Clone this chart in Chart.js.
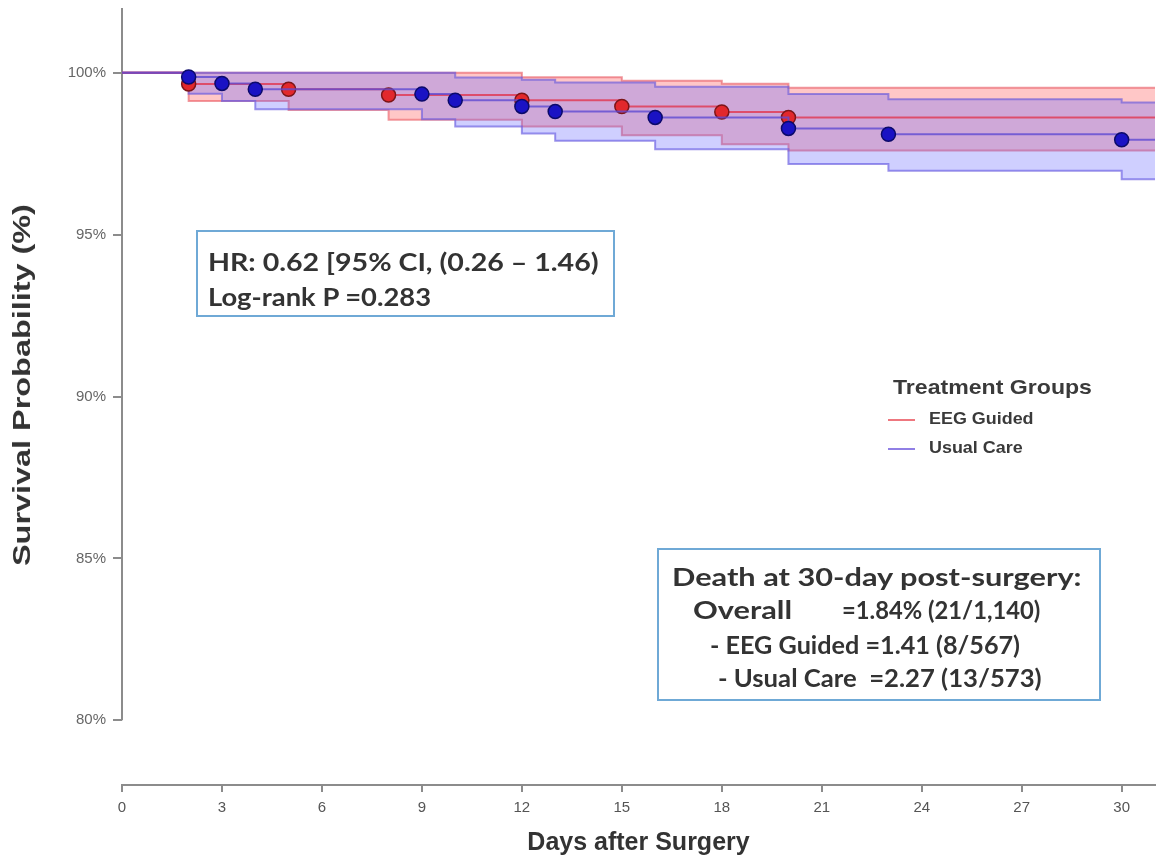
<!DOCTYPE html>
<html>
<head>
<meta charset="utf-8">
<title>Survival by treatment group</title>
<script src="https://cdn.jsdelivr.net/npm/chart.js@4.4.0/dist/chart.umd.min.js"></script>
<style>
    body { margin: 0; background: #fff; }
    #wrap { position: relative; width: 1158px; height: 859px; }
    #chart { position: absolute; left: 0; top: 0; }
    .box { position: absolute; border: 2px solid #6fa9d6; box-sizing: border-box; }
    .txt { position: absolute; font-family: Lato, 'Open Sans', sans-serif; font-weight: 700;
           color: #333; white-space: pre; font-size: 24px; line-height: 30px; transform-origin: 0 50%; }
    .leg { position: absolute; font-family: 'Liberation Sans', Arial, sans-serif; font-weight: 700;
           color: #3a3a3a; white-space: pre; transform-origin: 0 50%; }
    .swatch { position: absolute; width: 27px; height: 2px; }
    #ytitle { position: absolute; left: 22px; top: 385px; font-family: 'Liberation Sans', Arial, sans-serif;
              font-weight: 700; font-size: 24px; color: #333; white-space: pre; line-height: 28px;
              transform: translate(-50%, -50%) rotate(-90deg) scaleX(1.35); }
</style>
</head>
<body>
<div id="wrap">
    <canvas id="chart" width="1158" height="859"></canvas>
    <div id="ytitle">Survival Probability (%)</div>

    <!-- hazard ratio box -->
    <div class="box" style="left:196px; top:230px; width:419px; height:87px;"></div>
    <div class="txt" style="left:208px; top:247px; transform:scaleX(1.19);">HR: 0.62 [95% CI, (0.26 – 1.46)</div>
    <div class="txt" style="left:208px; top:282px; transform:scaleX(1.14);">Log-rank P =0.283</div>

    <!-- legend -->
    <div class="leg" style="left:893px; top:375px; font-size:21px; transform:scaleX(1.1);">Treatment Groups</div>
    <div class="swatch" style="left:888px; top:419px; background:rgba(235,95,105,0.85);"></div>
    <div class="leg" style="left:929px; top:410px; font-size:16px; transform:scaleX(1.12);">EEG Guided</div>
    <div class="swatch" style="left:888px; top:448px; background:rgba(125,105,225,0.85);"></div>
    <div class="leg" style="left:929px; top:439px; font-size:16px; transform:scaleX(1.12);">Usual Care</div>

    <!-- mortality box -->
    <div class="box" style="left:657px; top:548px; width:444px; height:153px;"></div>
    <div class="txt" style="left:672px; top:562px; transform:scaleX(1.28);">Death at 30-day post-surgery:</div>
    <div class="txt" style="left:693px; top:595px; transform:scaleX(1.28);">Overall</div>
    <div class="txt" style="left:842px; top:595px; transform:scaleX(0.99);">=1.84% (21/1,140)</div>
    <div class="txt" style="left:710px; top:630px; transform:scaleX(1.05);">- EEG Guided =1.41 (8/567)</div>
    <div class="txt" style="left:718px; top:663px; transform:scaleX(1.07);">- Usual Care  =2.27 (13/573)</div>
</div>

<script>
// EEG Guided: event days, survival and 95% CI (percent)
const eegDays  = [0, 2, 5, 8, 12, 15, 18, 20, 31];
const eegSurv  = [100, 99.65, 99.49, 99.31, 99.15, 98.96, 98.79, 98.62, 98.62];
const eegUpper = [100, 100, 100, 100, 99.86, 99.75, 99.66, 99.54, 99.54];
const eegLower = [100, 99.13, 98.85, 98.55, 98.34, 98.07, 97.79, 97.60, 97.60];

// Usual Care
const ucDays  = [0, 2, 3, 4, 9, 10, 12, 13, 16, 20, 23, 30, 31];
const ucSurv  = [100, 99.87, 99.67, 99.49, 99.34, 99.15, 98.96, 98.80, 98.62, 98.28, 98.10, 97.93, 97.93];
const ucUpper = [100, 100, 100, 100, 100, 99.85, 99.78, 99.70, 99.57, 99.34, 99.18, 99.08, 99.08];
const ucLower = [100, 99.35, 99.13, 98.87, 98.56, 98.34, 98.12, 97.90, 97.64, 97.18, 96.97, 96.71, 96.71];

// axis ticks
const xTicks = [0, 3, 6, 9, 12, 15, 18, 21, 24, 27, 30];
const yTicks = [80, 85, 90, 95, 100];

const axisGrey = '#8c8c8c';
const tickFont = "'Liberation Sans', Arial, sans-serif";

function pts(days, vals) {
    return days.map((d, i) => ({x: d, y: vals[i]}));
}

// markers only on the event steps, not on the start/end anchors
function markerRadius(days) {
    return ctx => (ctx.dataIndex === 0 || ctx.dataIndex === days.length - 1) ? 0 : 7;
}

function bandEdge(data, color, fill) {
    return {
        data: data,
        stepped: 'before',
        borderColor: color,
        borderWidth: 2,
        backgroundColor: fill || 'transparent',
        fill: fill ? '+1' : false,
        pointRadius: 0
    };
}

// y axis line from 80% up to the top (base R style axis)
const yAxisLine = {
    id: 'yAxisLine',
    beforeDatasetsDraw(chart) {
        const y = chart.scales.y;
        const ctx = chart.ctx;
        ctx.save();
        ctx.strokeStyle = axisGrey;
        ctx.lineWidth = 2;
        ctx.beginPath();
        ctx.moveTo(chart.chartArea.left, y.getPixelForValue(80));
        ctx.lineTo(chart.chartArea.left, chart.chartArea.top);
        ctx.stroke();
        ctx.restore();
    }
};

new Chart(document.getElementById('chart').getContext('2d'), {
    type: 'line',
    data: {
        datasets: [
            {
                // Usual Care survival (drawn on top)
                data: pts(ucDays, ucSurv),
                stepped: 'before',
                borderColor: 'rgba(95,75,210,0.8)',
                borderWidth: 2,
                fill: false,
                pointRadius: markerRadius(ucDays),
                pointBackgroundColor: '#1a12c4',
                pointBorderColor: '#0c0a6a',
                pointBorderWidth: 1.5
            },
            {
                // EEG Guided survival
                data: pts(eegDays, eegSurv),
                stepped: 'before',
                borderColor: 'rgba(225,55,80,0.8)',
                borderWidth: 2,
                fill: false,
                pointRadius: markerRadius(eegDays),
                pointBackgroundColor: '#e2282c',
                pointBorderColor: '#7c1518',
                pointBorderWidth: 1.5
            },
            bandEdge(pts(ucDays, ucUpper), 'rgba(105,90,220,0.65)', 'rgba(95,95,255,0.3)'),
            bandEdge(pts(ucDays, ucLower), 'rgba(105,90,220,0.65)'),
            bandEdge(pts(eegDays, eegUpper), 'rgba(230,85,95,0.6)', 'rgba(255,100,100,0.36)'),
            bandEdge(pts(eegDays, eegLower), 'rgba(230,85,95,0.6)')
        ]
    },
    options: {
        responsive: false,
        animation: false,
        devicePixelRatio: 1,
        layout: {
            padding: {top: 8, right: 3, left: 0, bottom: 0}
        },
        plugins: {
            legend: {display: false},
            tooltip: {enabled: false}
        },
        scales: {
            x: {
                type: 'linear',
                min: 0,
                max: 31,
                afterBuildTicks: s => { s.ticks = xTicks.map(v => ({value: v})); },
                afterFit: s => { s.height = 74; },
                grid: {drawOnChartArea: false, drawTicks: true, tickLength: 7, color: axisGrey, lineWidth: 2},
                border: {display: true, color: axisGrey, width: 2},
                ticks: {color: '#555', font: {family: tickFont, size: 15}, padding: 7, maxRotation: 0},
                title: {
                    display: true,
                    text: 'Days after Surgery',
                    color: '#333',
                    font: {family: tickFont, size: 25, weight: 'bold'},
                    padding: {top: 0, bottom: 1}
                }
            },
            y: {
                min: 78,
                max: 102,
                afterBuildTicks: s => { s.ticks = yTicks.map(v => ({value: v})); },
                afterFit: s => {
                    s.width = 122;
                    // the top tick (100%) is not at the edge, so no extra label room is needed
                    s.paddingTop = 0;
                    s.paddingBottom = 0;
                },
                grid: {drawOnChartArea: false, drawTicks: true, tickLength: 9, color: axisGrey, lineWidth: 2},
                border: {display: false},
                ticks: {
                    color: '#666',
                    font: {family: tickFont, size: 15},
                    padding: 7,
                    callback: v => v + '%'
                }
            }
        }
    },
    plugins: [yAxisLine]
});
</script>
</body>
</html>
